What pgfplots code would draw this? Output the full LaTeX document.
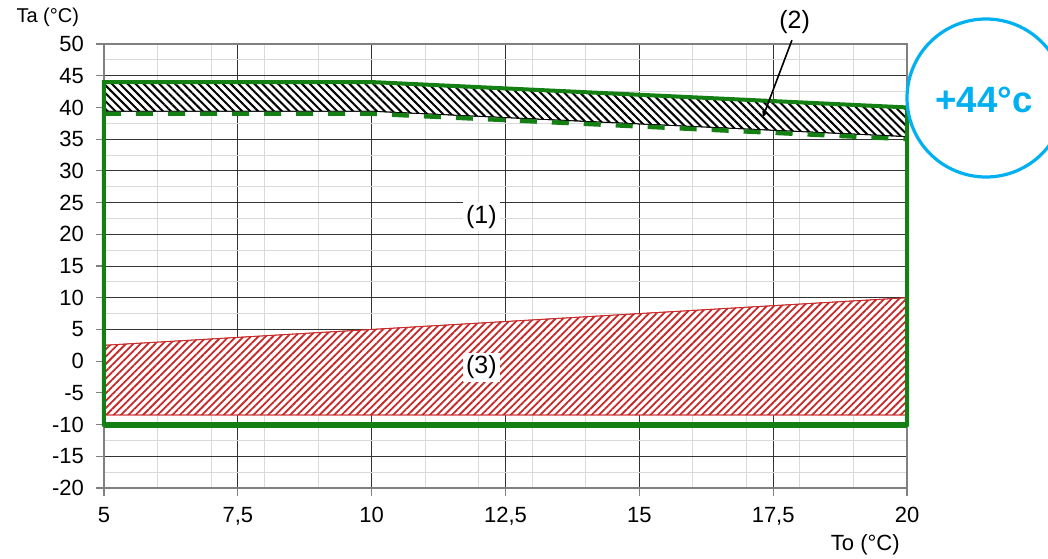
\documentclass[border=0pt]{standalone}
\usepackage{fontspec}
\setmainfont{Liberation Sans}
\usepackage{pgfplots}
\pgfplotsset{compat=1.18}
\usetikzlibrary{patterns.meta, arrows.meta}
\definecolor{grn}{RGB}{20,128,20}
\definecolor{cyn}{RGB}{0,176,240}
\definecolor{hred}{RGB}{200,40,40}
\begin{document}
\begin{tikzpicture}
\begin{axis}[
  scale only axis, width=401.5pt, height=222pt,
  xmin=5, xmax=20, ymin=-20, ymax=50,
  xtick={5,7.5,...,20}, ytick={-20,-15,...,50},
  minor xtick={6,7,8,9,11,12,13,14,16,17,18,19},
  minor ytick={-17.5,-12.5,...,47.5},
  grid=both,
  major grid style={black!80, line width=0.5pt},
  minor grid style={gray!30, line width=0.5pt},
  axis line style={gray, line width=0.6pt},
  tick align=outside, xtick pos=left, ytick pos=left,
  major tick length=4pt, minor tick length=0pt,
  tick style={gray, line width=0.6pt},
  /pgf/number format/assume math mode=true,
  /pgf/number format/use comma,
  xticklabel style={font=\fontsize{11}{13}\selectfont, yshift=-2pt},
  yticklabel style={font=\fontsize{11}{13}\selectfont, xshift=-2.5pt},
  clip=false,
]
\addplot[draw=black, line width=0.4pt, preaction={fill=white},
  pattern={Lines[angle=-45, distance=2.8pt, line width=1pt]}, pattern color=black]
  coordinates {(5,44) (10,44) (20,40) (20,35.4) (10,39.4) (5,39.4)} -- cycle;
\addplot[draw=hred, line width=0.4pt, preaction={fill=white},
  pattern={Lines[angle=45, distance=2.6pt, line width=0.9pt]}, pattern color=hred]
  coordinates {(5,-8.5) (20,-8.5) (20,10) (5,2.5)} -- cycle;
\addplot[grn, line width=2pt] coordinates {(5,-10) (5,44) (10,44) (20,40) (20,-10)} -- cycle;
\addplot[grn, line width=3pt] coordinates {(5,-10) (20,-10)};
\addplot[grn, line width=2.2pt, dash pattern=on 8.5pt off 7.5pt] coordinates {(5,39) (10,39) (20,35)};
\node[fill=white, inner sep=1.5pt, font=\fontsize{12.5}{14}\selectfont] at (axis cs:12.05,22.8) {(1)};
\node[fill=white, inner sep=1.5pt, font=\fontsize{12.5}{14}\selectfont] at (axis cs:12.05,-1) {(3)};
\node[font=\fontsize{12.5}{14}\selectfont] at (axis cs:17.9,53.4) {(2)};
\draw[-{Latex[length=3.5pt,width=3pt]}, line width=0.8pt] (axis cs:17.85,50.6) -- (axis cs:17.3,38.3);
\node[font=\fontsize{10}{12}\selectfont] at (axis cs:3.95,54.2) {Ta (°C)};
\node[font=\fontsize{11}{13}\selectfont] at (axis cs:19.22,-29) {To (°C)};
\end{axis}
\begin{scope}
\clip (-52pt,-35pt) rectangle (472pt,244pt);
\draw[cyn, line width=1.6pt] (441pt,195pt) circle (39.5pt);
\node[cyn, font=\bfseries\fontsize{18.3}{20}\selectfont] at (440pt,194pt) {+44°c};
\end{scope}
\pgfresetboundingbox
\path[use as bounding box] (-52pt,-35pt) rectangle (472pt,244pt);
\end{tikzpicture}
\end{document}
